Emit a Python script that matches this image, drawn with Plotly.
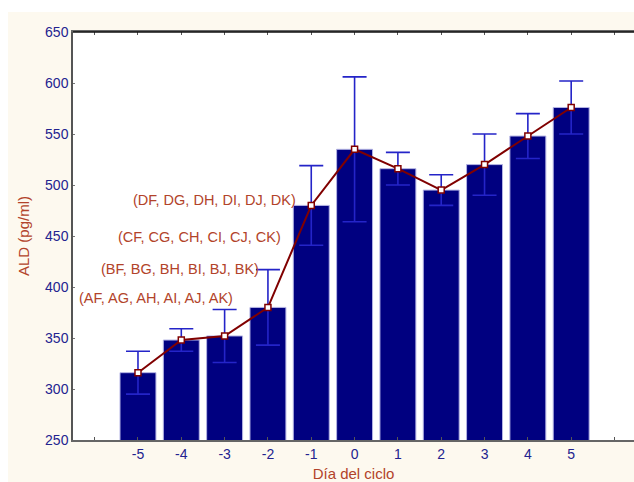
import plotly.graph_objects as go

# Cycle day and ALD measurements (mean ± error)
days = [-5, -4, -3, -2, -1, 0, 1, 2, 3, 4, 5]
ald_mean = [316, 348, 352, 380, 480, 535, 516, 495, 520, 548, 576]
ald_err = [21, 11, 26, 37, 39, 71, 16, 15, 30, 22, 26]

# Group labels shown on the left side of the plot
group_labels = [
    "(AF, AG, AH, AI, AJ, AK)",
    "(BF, BG, BH, BI, BJ, BK)",
    "(CF, CG, CH, CI, CJ, CK)",
    "(DF, DG, DH, DI, DJ, DK)",
]
group_label_x = [-2.76, -2.15, -1.66, -1.31]
group_label_y = [389, 418, 449, 485]

x_ticks = list(range(-6, 7))
x_ticktext = ["" if abs(v) == 6 else str(v) for v in x_ticks]
y_ticks = [250, 300, 350, 400, 450, 500, 550, 600, 650]

NAVY = "#000080"
LABEL_BLUE = "#23238f"
TITLE_RED = "#b2432a"
LINE_RED = "#800000"
CREAM = "#fdf9ef"
FONT = "Liberation Sans, Arial, sans-serif"

fig = go.Figure()

fig.add_trace(go.Bar(
    x=days,
    y=ald_mean,
    width=0.83,
    marker=dict(color=NAVY, line=dict(color="#b4b4e4", width=1)),
    error_y=dict(type="data", array=ald_err, symmetric=True,
                 color="#2424c8", thickness=1.6, width=12),
    showlegend=False,
))

fig.add_trace(go.Scatter(
    x=days,
    y=ald_mean,
    mode="lines+markers",
    line=dict(color=LINE_RED, width=2),
    marker=dict(symbol="square", size=6, color="white",
                line=dict(color=LINE_RED, width=1.5)),
    showlegend=False,
))

for txt, lx, ly in zip(group_labels, group_label_x, group_label_y):
    fig.add_annotation(x=lx, y=ly, xref="x", yref="y", text=txt,
                       showarrow=False, xanchor="right", yanchor="middle",
                       font=dict(family=FONT, size=14.5, color=TITLE_RED))

# White strips along the top and left page edges
fig.add_shape(type="rect", xref="paper", yref="paper",
              x0=-0.2, x1=1.1, y0=1.049, y1=1.2,
              fillcolor="white", line=dict(width=0), layer="below")
fig.add_shape(type="rect", xref="paper", yref="paper",
              x0=-0.2, x1=-0.1159, y0=-0.2, y1=1.2,
              fillcolor="white", line=dict(width=0), layer="below")
# Dark frame line along the top of the plot area
fig.add_shape(type="line", xref="paper", yref="paper",
              x0=0, x1=1, y0=1, y1=1,
              line=dict(color="#111", width=1.5), layer="above")

fig.update_layout(
    width=634,
    height=482,
    margin=dict(l=73, r=0, t=32, b=42),
    paper_bgcolor=CREAM,
    plot_bgcolor="white",
    font=dict(family=FONT, size=14, color=LABEL_BLUE),
    xaxis=dict(
        range=[-6.5, 6.45],
        tickmode="array",
        tickvals=x_ticks,
        ticktext=x_ticktext,
        ticks="inside",
        ticklen=3,
        tickcolor="#555",
        showgrid=False,
        zeroline=False,
        showline=True,
        linecolor="#666",
        linewidth=1.5,
        mirror="ticks",
        tickfont=dict(family=FONT, size=14, color=LABEL_BLUE),
        title=dict(text="Día del ciclo", standoff=10,
                   font=dict(family=FONT, size=15, color=TITLE_RED)),
    ),
    yaxis=dict(
        range=[250, 650],
        tickmode="array",
        tickvals=y_ticks,
        ticks="inside",
        ticklen=2,
        tickcolor="#777",
        showgrid=False,
        zeroline=False,
        showline=True,
        linecolor="#555",
        linewidth=1.5,
        tickfont=dict(family=FONT, size=14, color=LABEL_BLUE),
        title=dict(text="ALD (pg/ml)", standoff=12,
                   font=dict(family=FONT, size=15, color=TITLE_RED)),
    ),
)

fig.write_html("out.html")
